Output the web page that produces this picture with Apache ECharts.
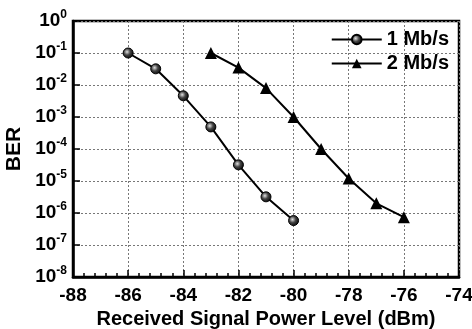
<!DOCTYPE html>
<html>
<head>
<meta charset="utf-8">
<script src="https://cdn.jsdelivr.net/npm/echarts@6/dist/echarts.min.js"></script>
<style>
  html, body { margin: 0; padding: 0; background: #fff; }
  #chart { width: 472px; height: 329px; }
</style>
</head>
<body>
<div id="chart"></div>
<script>
const FONT = '"Liberation Sans", Arial, sans-serif';

const seriesNames = ["1 Mb/s", "2 Mb/s"];
const power1 = [-86, -85, -84, -83, -82, -81, -80];
const ber1 = [1e-1, 3.2e-2, 4.6e-3, 4.9e-4, 3.2e-5, 3.2e-6, 5.8e-7];
const power2 = [-83, -82, -81, -80, -79, -78, -77, -76];
const ber2 = [1e-1, 3.5e-2, 8e-3, 1e-3, 1e-4, 1.2e-5, 2e-6, 7.4e-7];

function pairs(xs, ys) {
  return xs.map((x, i) => [x, ys[i]]);
}

// shaded ball look of the circle markers
const ballColor = {
  type: "radial", x: 0.4, y: 0.4, r: 0.65,
  colorStops: [
    { offset: 0, color: "#e0e0e0" },
    { offset: 0.45, color: "#444" },
    { offset: 1, color: "#000" }
  ]
};

const chart = echarts.init(document.getElementById("chart"));

chart.setOption({
  animation: false,
  backgroundColor: "#fff",
  textStyle: { fontFamily: FONT },
  grid: {
    left: 73, right: 13, top: 21, bottom: 52,
    outerBoundsMode: "none",
    show: true, borderColor: "#000", borderWidth: 2.5, backgroundColor: "transparent"
  },
  legend: {
    orient: "vertical",
    right: 18,
    top: 24,
    itemWidth: 50,
    itemHeight: 12,
    itemGap: 3,
    textStyle: { fontFamily: FONT, fontWeight: "bold", fontSize: 20, color: "#000", lineHeight: 21 },
    data: seriesNames
  },
  xAxis: {
    type: "value",
    min: -88, max: -74, interval: 2,
    name: "Received Signal Power Level (dBm)",
    nameLocation: "middle",
    nameGap: 31,
    nameTextStyle: { fontFamily: FONT, fontWeight: "bold", fontSize: 20, color: "#000" },
    axisLine: { lineStyle: { color: "#000", width: 2.5 } },
    axisTick: { inside: true, length: 7, lineStyle: { color: "#000", width: 1.5 } },
    minorTick: { show: true, splitNumber: 5, length: 4, lineStyle: { color: "#000", width: 1.5 } },
    axisLabel: { fontFamily: FONT, fontWeight: "bold", fontSize: 19, color: "#000", margin: 9 },
    splitLine: { show: true, lineStyle: { color: "#777", type: [2, 2], width: 1 } }
  },
  yAxis: {
    type: "log",
    logBase: 10,
    min: 1e-8, max: 1,
    name: "BER",
    nameLocation: "middle",
    nameGap: 48,
    nameTextStyle: { fontFamily: FONT, fontWeight: "bold", fontSize: 21, color: "#000" },
    axisLine: { show: true, lineStyle: { color: "#000", width: 2.5 } },
    axisTick: { show: true, inside: true, length: 7, lineStyle: { color: "#000", width: 1.5 } },
    axisLabel: {
      margin: 6,
      formatter: v => "{b|10}{s|" + Math.round(Math.log10(v)) + "}",
      rich: {
        b: { fontFamily: FONT, fontWeight: "bold", fontSize: 19, color: "#000" },
        s: { fontFamily: FONT, fontWeight: "bold", fontSize: 12, color: "#000", padding: [0, 0, 12, 0] }
      }
    },
    splitLine: { show: true, lineStyle: { color: "#777", type: [2, 2], width: 1 } }
  },
  series: [
    {
      name: seriesNames[0],
      type: "line",
      data: pairs(power1, ber1),
      symbol: "circle",
      symbolSize: 10,
      lineStyle: { color: "#000", width: 2 },
      itemStyle: { color: ballColor, borderColor: "#000", borderWidth: 1 }
    },
    {
      name: seriesNames[1],
      type: "line",
      data: pairs(power2, ber2),
      symbol: "triangle",
      symbolSize: 12,
      lineStyle: { color: "#000", width: 2 },
      itemStyle: { color: "#000", borderColor: "#000", borderWidth: 0 }
    }
  ]
});
</script>
</body>
</html>
